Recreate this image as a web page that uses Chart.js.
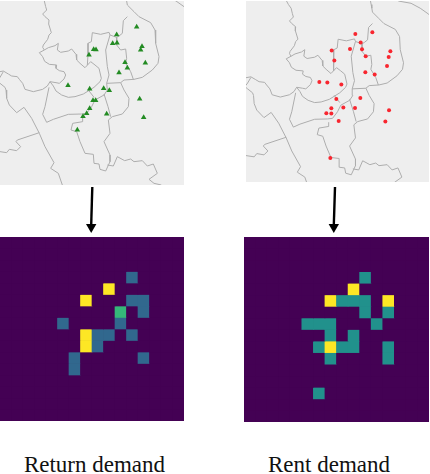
<!DOCTYPE html>
<html><head><meta charset="utf-8">
<script src="https://cdn.jsdelivr.net/npm/chart.js@4"></script>
<style>
html,body{margin:0;padding:0;background:#fff;width:430px;height:474px;overflow:hidden}
canvas{position:absolute;display:block}
.cap{position:absolute;font-family:"Liberation Serif",serif;font-size:23px;line-height:26px;color:#111;white-space:nowrap;transform:translateX(-50%)}
</style></head><body>
<div class="cap" style="left:94.5px;top:452px">Return demand</div>
<div class="cap" style="left:329px;top:452px">Rent demand</div>
<script>
// ---- Stations (in that map's own picture units) ----
const returnStationX=[410,350,338,351,426,422,281,288,267,375,436,382,357,204,269,311,328,419,279,287,269,260,249,320,431,232];
const returnStationY=[81,104,130,129,139,150,148,149,165,187,189,204,218,256,267,265,271,297,301,301,325,340,349,342,352,390];
const rentStationX=[472,421,437,441,350,405,526,521,452,358,516,451,479,313,337,379,436,364,385,420,349,522,334,349,371,511,346];
const rentStationY=[97,102,128,148,152,147,154,171,169,182,198,217,224,246,248,254,294,297,323,324,325,331,340,341,363,365,474];
// ---- Administrative boundary lines shared by both maps (x,y pairs) ----
const mapBorders=[
 [119,-19,125,-8,133,3,137,20,140,30,128,42,135,50,147,60,146,72,154,98,147,105,143,118,130,135,128,142,133,150,118,158,128,170,134,184,148,193,170,195,168,205,178,212,192,215,197,225,192,237,178,250,168,248,150,245,142,258,128,268,100,275,75,268,68,250,58,238,52,230,35,228,25,222,10,213,-6,216],
 [10,215,0,232,-6,240],
 [133,150,145,143,165,137,175,130,172,150,182,157,205,153,215,147,228,163,230,180,240,190,255,203,272,185,285,195,297,205,304,235,300,245,282,262,250,282,225,290,205,292,185,285,168,273,160,258,150,245],
 [147,262,135,320,128,343,140,367,160,358,205,343,245,342,260,340,275,320,285,300,312,285,322,270,320,250,327,225,322,200,317,150,330,105,327,97,302,103,277,98,274,125,264,130,264,165,262,195],
 [330,105,350,112,350,135,362,150,377,147,380,175,377,190,392,215,400,238],
 [350,112,357,108,367,100,370,62,382,50],
 [376,-19,378,-8,380,3,382,15,402,35,417,50,452,68,465,90,467,130,477,170,474,190,457,210,427,232,402,238,372,240,362,248,320,250],
 [362,248,372,270,387,295,385,320,367,342,337,350,325,360,330,400,312,425,330,465,330,485,317,513,300,508,297,492,282,490,280,463,255,460,240,425,230,395,213,390,218,370,248,365,248,352],
 [312,282,324,320,332,350],[265,270,282,292],
 [322,495,340,498,352,470,374,482,392,477,402,485,427,482,442,498,460,492,472,520,447,538,462,550,484,555],
 [-6,245,0,250,15,262,18,270,20,295,28,315,50,338,72,322,95,355,118,400,135,440,162,488,152,505,175,520,187,555],
 [118,398,52,420,48,425,62,440,50,452,28,448,20,458,-6,454],
 [461,-19,500,-12,528,3,552,20,560,27]
];
// ---- Demand grids (16 x 16 cells) ----
const returnGrid=[
 [0,0,0,0,0,0,0,0,0,0,0,0,0,0,0,0],
 [0,0,0,0,0,0,0,0,0,0,0,0,0,0,0,0],
 [0,0,0,0,0,0,0,0,0,0,0,0,0,0,0,0],
 [0,0,0,0,0,0,0,0,0,0,0,1,0,0,0,0],
 [0,0,0,0,0,0,0,0,0,3,0,0,0,0,0,0],
 [0,0,0,0,0,0,0,3,0,0,0,1,1,0,0,0],
 [0,0,0,0,0,0,0,0,0,0,2,0,1,0,0,0],
 [0,0,0,0,0,1,0,0,0,0,1,0,0,0,0,0],
 [0,0,0,0,0,0,0,3,1,1,0,1,0,0,0,0],
 [0,0,0,0,0,0,0,3,1,0,0,0,0,0,0,0],
 [0,0,0,0,0,0,1,0,0,0,0,0,1,0,0,0],
 [0,0,0,0,0,0,1,0,0,0,0,0,0,0,0,0],
 [0,0,0,0,0,0,0,0,0,0,0,0,0,0,0,0],
 [0,0,0,0,0,0,0,0,0,0,0,0,0,0,0,0],
 [0,0,0,0,0,0,0,0,0,0,0,0,0,0,0,0],
 [0,0,0,0,0,0,0,0,0,0,0,0,0,0,0,0]
];
const rentGrid=[
 [0,0,0,0,0,0,0,0,0,0,0,0,0,0,0,0],
 [0,0,0,0,0,0,0,0,0,0,0,0,0,0,0,0],
 [0,0,0,0,0,0,0,0,0,0,0,0,0,0,0,0],
 [0,0,0,0,0,0,0,0,0,0,1,0,0,0,0,0],
 [0,0,0,0,0,0,0,0,0,2,0,0,0,0,0,0],
 [0,0,0,0,0,0,0,2,1,1,1,0,2,0,0,0],
 [0,0,0,0,0,0,0,0,0,0,1,0,1,0,0,0],
 [0,0,0,0,0,1,1,1,0,0,0,1,0,0,0,0],
 [0,0,0,0,0,0,0,1,0,1,0,0,0,0,0,0],
 [0,0,0,0,0,0,1,2,1,1,0,0,1,0,0,0],
 [0,0,0,0,0,0,0,1,0,0,0,0,1,0,0,0],
 [0,0,0,0,0,0,0,0,0,0,0,0,0,0,0,0],
 [0,0,0,0,0,0,0,0,0,0,0,0,0,0,0,0],
 [0,0,0,0,0,0,1,0,0,0,0,0,0,0,0,0],
 [0,0,0,0,0,0,0,0,0,0,0,0,0,0,0,0],
 [0,0,0,0,0,0,0,0,0,0,0,0,0,0,0,0]
];
const gridColumns=["0","1","2","3","4","5","6","7","8","9","10","11","12","13","14","15"];
const returnColors=["#440154","#31688e","#35b779","#fde725"];
const rentColors=["#440154","#21918c","#fde725"];
// ---- Arrow shafts ----
const arrowLeftX=[92.3,91.2], arrowRightX=[335,333.8], arrowY=[0,38];

Chart.defaults.animation=false;
function mk(l,t,w,h,bg,cfg){
  const c=document.createElement('canvas');
  c.width=w;c.height=h;
  c.style.cssText=`left:${l}px;top:${t}px;width:${w}px;height:${h}px;background:${bg}`;
  document.body.appendChild(c);
  cfg.options=Object.assign({responsive:false,animation:false,events:[],layout:{padding:0,autoPadding:false},
    plugins:{legend:{display:false},tooltip:{enabled:false},title:{display:false}}},cfg.options);
  return new Chart(c,cfg);
}
const hidden=(min,max,reverse)=>({type:'linear',display:false,min,max,reverse:!!reverse});
function mapChart(l,t,w,h,x0,x1,y0,y1,sx,sy,sox,soy,st){
  const ds=mapBorders.map(b=>{
    const pts=[];for(let i=0;i<b.length;i+=2)pts.push({x:b[i],y:b[i+1]});
    return {type:'line',data:pts,borderColor:'#adadad',borderWidth:1,pointRadius:0,tension:0,fill:false,order:2};
  });
  // station readings are in picture units of this map: convert them to the axis range
  ds.push(Object.assign({type:'scatter',data:sx.map((x,i)=>({x:(x-sox.a)/sox.k,y:(sy[i]-soy.a)/soy.k})),showLine:false,order:1},st));
  mk(l,t,w,h,'#eeeeee',{type:'scatter',data:{datasets:ds},options:{scales:{x:hidden(x0,x1),y:hidden(y0,y1,true)}}});
}
mapChart(0,1,184,184,0,552,3,555,returnStationX,returnStationY,{a:0,k:1},{a:0,k:1},
  {pointStyle:'triangle',pointRadius:3.2,backgroundColor:'#238b23',borderColor:'#238b23',borderWidth:0});
mapChart(246,1,183,181,-5,555,-19,535,rentStationX,rentStationY,{a:98,k:.98},{a:22,k:.98},
  {pointStyle:'circle',pointRadius:2,backgroundColor:'#f8262f',borderColor:'#f8262f',borderWidth:0});

function arrow(l,xs){
  mk(l,187,16,46,'transparent',{type:'scatter',data:{datasets:[
    {type:'line',data:xs.map((x,i)=>({x,y:arrowY[i]})),borderColor:'#000',borderWidth:2.4,pointRadius:0},
    {type:'scatter',data:[{x:xs[1],y:arrowY[1]+2}],pointStyle:'triangle',pointRotation:180,pointRadius:6,backgroundColor:'#000',borderWidth:0}
  ]},options:{scales:{x:hidden(l,l+16),y:hidden(0,46,true)}}});
}
arrow(84,arrowLeftX);
arrow(326,arrowRightX);

function heat(l,t,w,h,grid,colors){
  const ds=grid.map(row=>({data:row.map(()=>1),backgroundColor:row.map(v=>colors[v]),borderWidth:0,barPercentage:1,categoryPercentage:1}));
  mk(l,t,w,h,'#440154',{type:'bar',data:{labels:gridColumns,datasets:ds},options:{scales:{
    x:{type:'category',display:false,stacked:true,offset:true},
    y:{type:'linear',display:false,stacked:true,min:0,max:16,reverse:true}}}});
}
heat(0,237,184,184,returnGrid,returnColors);
heat(244,237,185,185,rentGrid,rentColors);
</script></body></html>
